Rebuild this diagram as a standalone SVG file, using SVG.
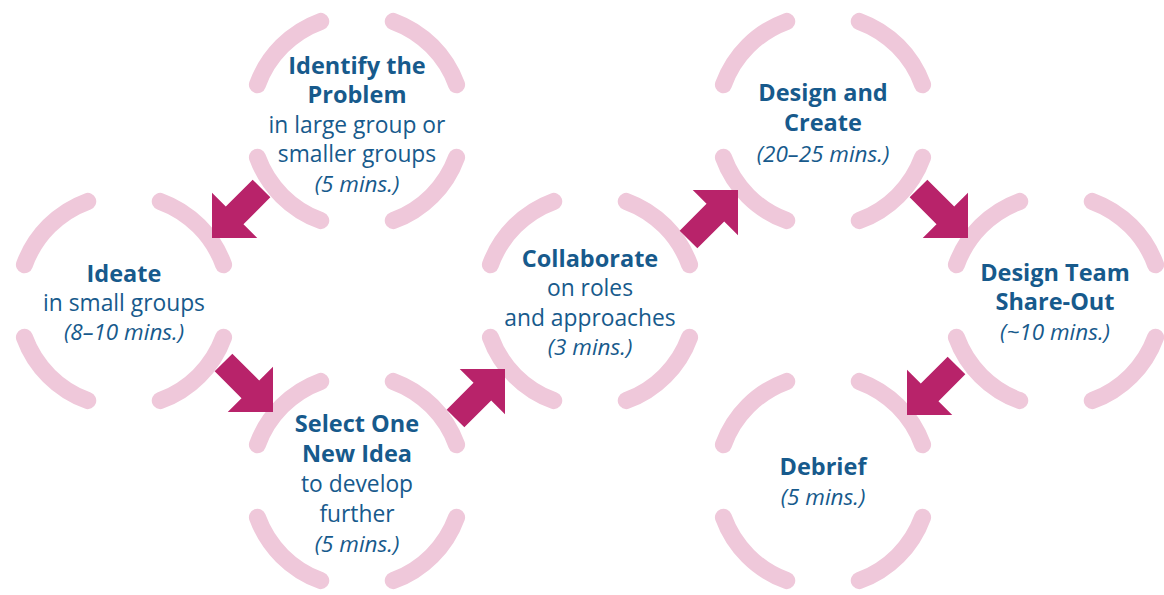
<svg xmlns="http://www.w3.org/2000/svg" xmlns:xlink="http://www.w3.org/1999/xlink" width="1164" height="595" viewBox="0 0 1164 595">
<style>
.ring{fill:none;stroke:#EFC8DA;stroke-width:17;stroke-linecap:round}
.arrow{fill:#B8236A}
text{font-family:"Open Sans","Noto Sans",Lato,"Liberation Sans",sans-serif;font-size:22.8px;fill:#175A8C;text-anchor:middle}
.b{font-weight:bold;font-size:23.5px}
.i{font-style:italic;font-size:22.5px}
</style>
<defs>
<path id="ring" d="M99.6 36.25A106 106 0 0 1 36.25 99.6M-36.25 99.6A106 106 0 0 1 -99.6 36.25M-99.6 -36.25A106 106 0 0 1 -36.25 -99.6M36.25 -99.6A106 106 0 0 1 99.6 -36.25"/>
<polygon id="arr" points="0,0 -32,-32 -32,-12.5 -70,-12.5 -70,12.5 -32,12.5 -32,32"/>
</defs>
<rect width="1164" height="595" fill="#fff"/>
<g id="identify">
<use xlink:href="#ring" class="ring" transform="translate(357,121)"/>
<text x="357" y="74" class="b">Identify the</text>
<text x="357" y="103" class="b">Problem</text>
<text x="357" y="133">in large group or</text>
<text x="357" y="162">smaller groups</text>
<text x="357" y="192" class="i">(5 mins.)</text>
</g>
<g id="ideate">
<use xlink:href="#ring" class="ring" transform="translate(124,301)"/>
<text x="124" y="282" class="b">Ideate</text>
<text x="124" y="311">in small groups</text>
<text x="124" y="340" class="i">(8–10 mins.)</text>
</g>
<g id="select">
<use xlink:href="#ring" class="ring" transform="translate(357,481)"/>
<text x="357" y="432" class="b">Select One</text>
<text x="357" y="462" class="b">New Idea</text>
<text x="357" y="492">to develop</text>
<text x="357" y="522">further</text>
<text x="357" y="552" class="i">(5 mins.)</text>
</g>
<g id="collaborate">
<use xlink:href="#ring" class="ring" transform="translate(590,301)"/>
<text x="590" y="267" class="b">Collaborate</text>
<text x="590" y="296">on roles</text>
<text x="590" y="326">and approaches</text>
<text x="590" y="355" class="i">(3 mins.)</text>
</g>
<g id="design">
<use xlink:href="#ring" class="ring" transform="translate(823,121)"/>
<text x="823" y="101" class="b">Design and</text>
<text x="823" y="131" class="b">Create</text>
<text x="823" y="162" class="i">(20–25 mins.)</text>
</g>
<g id="shareout">
<use xlink:href="#ring" class="ring" transform="translate(1056,301)"/>
<text x="1055" y="281" class="b">Design Team</text>
<text x="1055" y="310" class="b">Share-Out</text>
<text x="1055" y="340" class="i">(~10 mins.)</text>
</g>
<g id="debrief">
<use xlink:href="#ring" class="ring" transform="translate(823,481)"/>
<text x="823" y="475" class="b">Debrief</text>
<text x="823" y="505" class="i">(5 mins.)</text>
</g>
<g id="connectors">
<use xlink:href="#arr" class="arrow" transform="translate(212,238) rotate(135)"/>
<use xlink:href="#arr" class="arrow" transform="translate(273,412) rotate(45)"/>
<use xlink:href="#arr" class="arrow" transform="translate(505,369) rotate(-45)"/>
<use xlink:href="#arr" class="arrow" transform="translate(738,190) rotate(-45)"/>
<use xlink:href="#arr" class="arrow" transform="translate(968,238) rotate(45)"/>
<use xlink:href="#arr" class="arrow" transform="translate(907,415) rotate(135)"/>
</g>
</svg>
